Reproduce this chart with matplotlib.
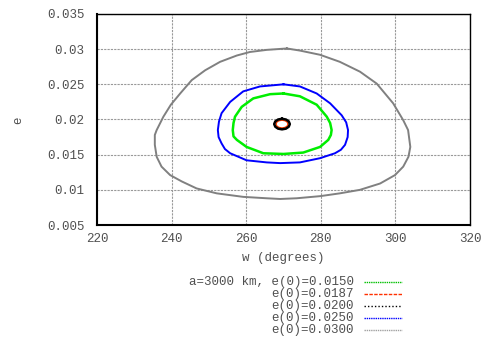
import matplotlib.pyplot as plt
from matplotlib.lines import Line2D

# closed orbits in the (w, e) plane
w_030 = [270.9, 274.4, 279.8, 285.1, 290.5, 295.0, 299.4, 302.1, 303.4, 304.0, 303.5, 302.1,
         299.9, 295.9, 290.5, 285.1, 279.8, 273.5, 269.1, 265.5, 259.2, 252.1, 246.7, 242.7,
         239.6, 237.3, 236.0, 235.5, 235.5, 236.0, 237.8, 239.8, 242.3, 245.4, 249.0, 253.0,
         257.5, 261.0, 265.5, 270.9]
e_030 = [0.0301, 0.0298, 0.0292, 0.0282, 0.0268, 0.0251, 0.0223, 0.0199, 0.0185, 0.0161, 0.0147, 0.0133,
         0.0121, 0.0109, 0.0100, 0.0095, 0.0091, 0.0088, 0.0087, 0.0088, 0.0090, 0.0095, 0.0102, 0.0112,
         0.0121, 0.0133, 0.0147, 0.0164, 0.0178, 0.0185, 0.0204, 0.0221, 0.0237, 0.0256, 0.0270, 0.0282,
         0.0291, 0.0296, 0.0299, 0.0301]

w_025 = [270.0, 274.4, 278.9, 282.5, 285.6, 286.8, 287.3, 287.2, 286.5, 285.4, 283.8, 279.8, 274.4,
         269.1, 265.5, 260.1, 255.7, 254.3, 253.4, 252.6, 252.4, 252.7, 253.4, 255.7, 259.2, 263.7, 270.0]
e_025 = [0.0250, 0.0247, 0.0237, 0.0223, 0.0206, 0.0196, 0.0185, 0.0175, 0.0164, 0.0157, 0.0152, 0.0145, 0.0139,
         0.0138, 0.0139, 0.0142, 0.0152, 0.0158, 0.0166, 0.0175, 0.0185, 0.0197, 0.0209, 0.0225, 0.0240, 0.0247,
         0.0250]

w_015 = [270.0, 274.4, 278.9, 281.6, 282.5, 282.9, 282.7, 282.0, 279.8, 275.3, 270.0, 264.6, 260.1,
         257.5, 256.6, 256.4, 256.6, 257.0, 258.8, 261.9, 266.4, 270.0]
e_015 = [0.0237, 0.0233, 0.0221, 0.0204, 0.0195, 0.0185, 0.0178, 0.0171, 0.0161, 0.0153, 0.0151, 0.0152, 0.0161,
         0.0171, 0.0176, 0.0185, 0.0195, 0.0204, 0.0218, 0.0230, 0.0236, 0.0237]

w_020 = [269.6, 270.65, 271.4, 271.7, 271.4, 270.65, 269.6, 268.55, 267.8, 267.5, 267.8, 268.55, 269.6]
e_020 = [0.02010, 0.02000, 0.01973, 0.01935, 0.01897, 0.01870, 0.01860, 0.01870, 0.01897, 0.01935,
         0.01973, 0.02000, 0.02010]

w_0187 = [269.6, 270.4, 271.0, 271.2, 271.0, 270.4, 269.6, 268.8, 268.2, 268.0, 268.2, 268.8, 269.6]
e_0187 = [0.01990, 0.01983, 0.01963, 0.01935, 0.01907, 0.01887, 0.01880, 0.01887, 0.01907, 0.01935,
          0.01963, 0.01983, 0.01990]

legend_labels = ['a=3000 km, e(0)=0.0150', 'e(0)=0.0187', 'e(0)=0.0200', 'e(0)=0.0250', 'e(0)=0.0300']
legend_colors = ['#00c000', '#ff3000', '#000000', '#0000ff', '#a0a0a0']
legend_styles = [(0, (1, 0.6)), (0, (2.5, 1)), (0, (1, 1.5)), (0, (1, 0.6)), (0, (1, 0.6))]

xticks = [220, 240, 260, 280, 300, 320]
yticks = [0.005, 0.01, 0.015, 0.02, 0.025, 0.03, 0.035]
ytick_labels = ['0.005', '0.01', '0.015', '0.02', '0.025', '0.03', '0.035']

plt.rcParams['font.family'] = ['Liberation Mono', 'DejaVu Sans Mono']
txt = '#505050'
fs = 9

fig = plt.figure(figsize=(4.92, 3.38), dpi=100)
ax = fig.add_axes([97 / 492, 1 - 225 / 338, 373 / 492, 211 / 338])

ax.plot(w_030, e_030, color='#808080', lw=1.4, solid_joinstyle='round')
ax.plot(w_025, e_025, color='#0000ff', lw=1.4, solid_joinstyle='round')
ax.plot(w_015, e_015, color='#00ee00', lw=1.8, solid_joinstyle='round')
ax.plot(w_0187, e_0187, color='#ff4000', lw=1.0)
ax.plot(w_020, e_020, color='#000000', lw=1.8)

ax.set_xlim(220, 320)
ax.set_ylim(0.005, 0.035)
ax.set_xticks(xticks)
ax.set_xticklabels([str(t) for t in xticks])
ax.set_yticks(yticks)
ax.set_yticklabels(ytick_labels)
ax.tick_params(length=0, labelsize=fs, labelcolor=txt, pad=9)
ax.tick_params(axis='x', pad=6)
ax.grid(True, color='#999999', lw=0.8, linestyle=(0, (2, 1)))
ax.set_axisbelow(True)
for side in ['left', 'bottom']:
    ax.spines[side].set_linewidth(1.5)
for side in ['top', 'right']:
    ax.spines[side].set_linewidth(1.0)

fig.text(283 / 492, 1 - 258 / 338, 'w (degrees)', ha='center', va='center', fontsize=fs, color=txt)
fig.text(18 / 492, 1 - 120 / 338, 'e', ha='center', va='center', fontsize=fs, color=txt, rotation=90)

# gnuplot-style key below the plot
row_y = [282, 294, 306, 318, 330]
for lab, col, ls, y in zip(legend_labels, legend_colors, legend_styles, row_y):
    fig.text(354 / 492, 1 - y / 338, lab, ha='right', va='center', fontsize=fs, color=txt)
    fig.add_artist(Line2D([364 / 492, 402 / 492], [1 - y / 338, 1 - y / 338],
                          color=col, lw=1.0, linestyle=ls))

fig.savefig('out.png', dpi=100)
